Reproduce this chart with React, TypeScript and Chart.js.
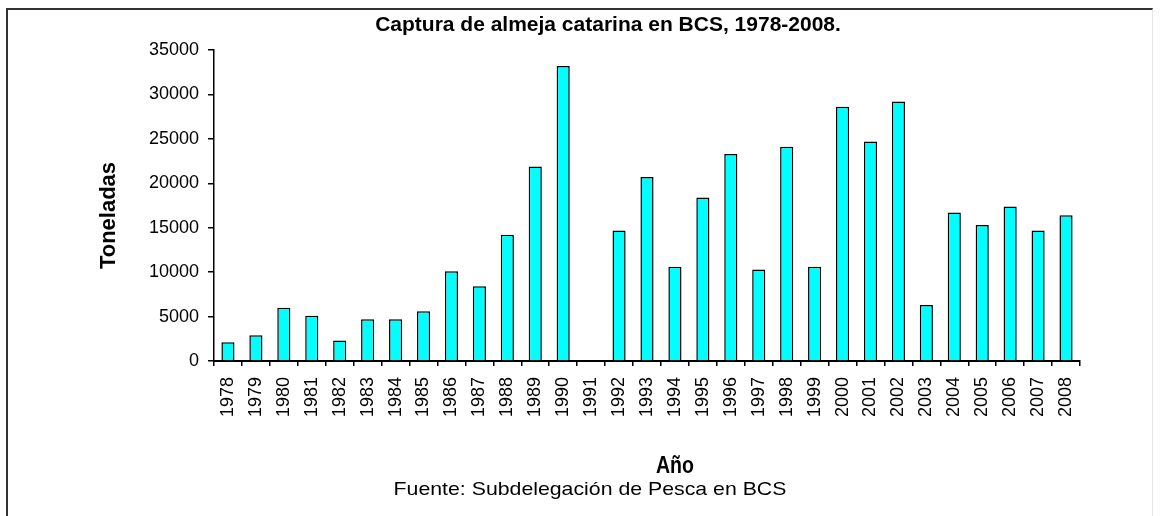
import React, { useEffect, useRef } from 'react';
import { Chart, registerables } from 'chart.js';

Chart.register(...registerables);

// ---- data ----
const years: string[] = [
  '1978', '1979', '1980', '1981', '1982', '1983', '1984', '1985', '1986', '1987',
  '1988', '1989', '1990', '1991', '1992', '1993', '1994', '1995', '1996', '1997',
  '1998', '1999', '2000', '2001', '2002', '2003', '2004', '2005', '2006', '2007', '2008',
];
const capture: (number | null)[] = [
  2100, 2900, 6000, 5100, 2300, 4700, 4700, 5600, 10100, 8400,
  14200, 21900, 33200, null, 14700, 20700, 10600, 18400, 23300, 10300,
  24100, 10600, 28600, 24700, 29200, 6300, 16700, 15300, 17400, 14700, 16400,
];
const yMin = 0;
const yMax = 35000;
const yStep = 5000;

const titleText = 'Captura de almeja catarina en BCS, 1978-2008.';
const xTitleText = 'Año';
const yTitleText = 'Toneladas';
const sourceText = 'Fuente: Subdelegación de Pesca en BCS';

const FONT = '"Liberation Sans", Arial, Helvetica, sans-serif';

const W = 1164;
const H = 516;

const textPlugin = {
  id: 'extraTexts',
  afterDraw(chart: any) {
    const ctx: CanvasRenderingContext2D = chart.ctx;
    const area = chart.chartArea;
    ctx.save();
    ctx.fillStyle = '#000';
    ctx.textAlign = 'center';
    ctx.textBaseline = 'alphabetic';

    // main title
    ctx.font = `bold 21px ${FONT}`;
    ctx.fillText(titleText, 608, 30.5);

    // x axis title (slightly condensed)
    ctx.save();
    ctx.translate(675, 473);
    ctx.scale(0.85, 1);
    ctx.font = `bold 23px ${FONT}`;
    ctx.fillText(xTitleText, 0, 0);
    ctx.restore();

    // source (slightly widened)
    ctx.save();
    ctx.translate(590, 495);
    ctx.scale(1.12, 1);
    ctx.font = `19px ${FONT}`;
    ctx.fillText(sourceText, 0, 0);
    ctx.restore();

    // y axis title
    ctx.save();
    ctx.translate(115, (area.top + area.bottom) / 2 + 10);
    ctx.rotate(-Math.PI / 2);
    ctx.font = `bold 22px ${FONT}`;
    ctx.fillText(yTitleText, 0, 0);
    ctx.restore();

    ctx.restore();
  },
};

export default function App() {
  const canvasRef = useRef<HTMLCanvasElement | null>(null);

  useEffect(() => {
    const canvas = canvasRef.current;
    if (!canvas) return;
    const chart = new Chart(canvas, {
      type: 'bar',
      data: {
        labels: years,
        datasets: [
          {
            label: 'Captura',
            data: capture,
            backgroundColor: '#00FFFF',
            borderColor: '#000000',
            borderWidth: 1.5,
            borderSkipped: 'start',
            barPercentage: 0.47,
            categoryPercentage: 1,
          },
        ],
      },
      options: {
        responsive: false,
        animation: false,
        devicePixelRatio: 1,
        layout: { padding: { left: 100, right: 84, top: 50, bottom: 95 } },
        plugins: {
          legend: { display: false },
          title: { display: false },
          tooltip: { enabled: false },
        },
        scales: {
          x: {
            type: 'category',
            afterFit: (s: any) => {
              s.height = 60;
            },
            grid: {
              offset: true,
              drawOnChartArea: false,
              drawTicks: true,
              tickLength: 5,
              color: '#000',
              tickColor: '#000',
              lineWidth: 1.5,
            },
            border: { display: true, color: '#000', width: 2 },
            ticks: {
              autoSkip: false,
              minRotation: 90,
              maxRotation: 90,
              padding: 11,
              color: '#000',
              font: { family: FONT, size: 18 },
            },
          },
          y: {
            min: yMin,
            max: yMax,
            afterFit: (s: any) => {
              s.width = 114;
            },
            grid: {
              drawOnChartArea: false,
              drawTicks: true,
              tickLength: 6,
              color: '#000',
              tickColor: '#000',
              lineWidth: 1.5,
            },
            border: { display: true, color: '#000', width: 1.5 },
            ticks: {
              stepSize: yStep,
              padding: 9,
              color: '#000',
              font: { family: FONT, size: 18 },
              callback: (v: any) => String(v),
            },
          },
        },
      },
      plugins: [textPlugin],
    });
    return () => chart.destroy();
  }, []);

  return (
    <div style={{ position: 'absolute', left: 0, top: 0, width: W, height: H, background: '#fff' }}>
      <div
        style={{
          position: 'absolute',
          left: 6,
          top: 8,
          width: 1153 - 6,
          height: H - 8,
          borderTop: '2px solid #333',
          borderLeft: '2px solid #333',
          borderRight: '1px solid #e4e4e4',
          boxSizing: 'border-box',
        }}
      />
      <canvas
        ref={canvasRef}
        width={W}
        height={H}
        style={{ position: 'absolute', left: 0, top: 0, width: W, height: H }}
      />
    </div>
  );
}
